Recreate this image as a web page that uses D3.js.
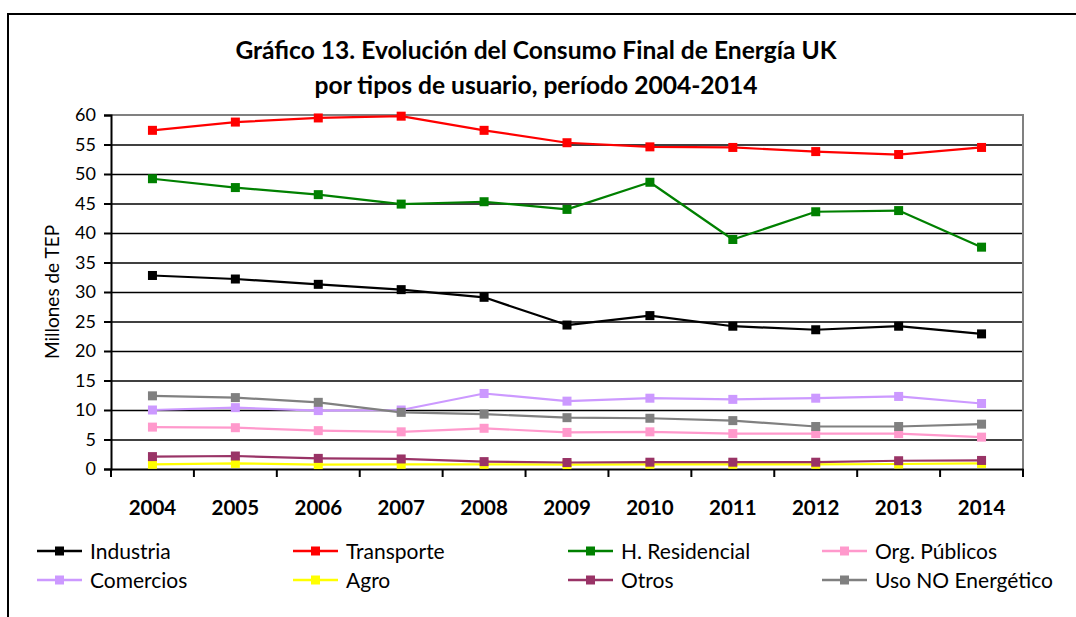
<!DOCTYPE html>
<html>
<head>
<meta charset="utf-8">
<script src="https://cdn.jsdelivr.net/npm/d3@7"></script>
<style>
  html, body { margin: 0; padding: 0; background: #fff; overflow: hidden; }
  svg { display: block; }
  text { font-family: Lato, "Open Sans", sans-serif; fill: #000; }
</style>
</head>
<body>
<svg id="chart" width="1076" height="617"></svg>
<script>
// ---- Data ----
const years = ["2004","2005","2006","2007","2008","2009","2010","2011","2012","2013","2014"];
const industria    = [32.8, 32.2, 31.3, 30.4, 29.1, 24.4, 26.0, 24.2, 23.6, 24.2, 22.9];
const transporte   = [57.4, 58.8, 59.5, 59.8, 57.4, 55.3, 54.6, 54.5, 53.8, 53.3, 54.5];
const residencial  = [49.2, 47.7, 46.5, 44.9, 45.3, 44.0, 48.6, 38.9, 43.6, 43.8, 37.6];
const orgPublicos  = [7.1, 7.0, 6.5, 6.3, 6.9, 6.2, 6.3, 6.0, 6.0, 6.0, 5.4];
const comercios    = [10.0, 10.4, 9.9, 10.0, 12.8, 11.5, 12.0, 11.8, 12.0, 12.3, 11.1];
const agro         = [0.8, 0.95, 0.75, 0.8, 0.8, 0.75, 0.8, 0.8, 0.8, 0.85, 0.95];
const otros        = [2.1, 2.2, 1.8, 1.7, 1.25, 1.1, 1.15, 1.15, 1.15, 1.4, 1.45];
const usoNoEnerg   = [12.4, 12.1, 11.3, 9.6, 9.3, 8.7, 8.6, 8.2, 7.2, 7.2, 7.6];
const yTicks = [0, 5, 10, 15, 20, 25, 30, 35, 40, 45, 50, 55, 60];

const seriesNames  = ["Industria","Transporte","H. Residencial","Org. Públicos","Comercios","Agro","Otros","Uso NO Energético"];
const seriesValues = [industria, transporte, residencial, orgPublicos, comercios, agro, otros, usoNoEnerg];
const seriesColors = ["#000000","#FF0000","#008000","#FF99CC","#CC99FF","#FFFF00","#993366","#808080"];

const titleLines = ["Gráfico 13. Evolución del Consumo Final de Energía UK", "por tipos de usuario, período 2004-2014"];
const yTitle = "Millones de TEP";

// ---- Layout ----
const svg = d3.select("#chart");
const plot = { left: 111, right: 1023, top: 115, bottom: 469 };

// outer chart frame (extends beyond the visible area on right and bottom)
svg.append("path").attr("d", "M8,700V14H1100")
  .attr("fill", "none").attr("stroke", "#000").attr("stroke-width", 2);

// title
svg.append("text").attr("x", 536).attr("y", 59).attr("text-anchor", "middle")
  .style("font-weight", "bold").style("font-size", "24.6px").text(titleLines[0]);
svg.append("text").attr("x", 536).attr("y", 94).attr("text-anchor", "middle")
  .style("font-weight", "bold").style("font-size", "24.6px").text(titleLines[1]);

// scales
const x = d3.scaleBand().domain(years).range([plot.left, plot.right]).padding(0);
const xc = d => x(d) + x.bandwidth() / 2;
const y = d3.scaleLinear().domain([0, 60]).range([plot.bottom, plot.top]);

// gridlines
const grid = svg.append("g").attr("transform", `translate(${plot.left},0)`)
  .call(d3.axisLeft(y).tickValues(yTicks.filter(v => v > 0 && v < 60)).tickSize(-(plot.right - plot.left)).tickFormat(""));
grid.select(".domain").remove();
grid.selectAll("line").attr("stroke", "#000").attr("stroke-width", 1.5);

// plot border (top & right, gray)
svg.append("path")
  .attr("d", `M${plot.left},${y(60)}H${plot.right}V${plot.bottom}`)
  .attr("fill", "none").attr("stroke", "#808080").attr("stroke-width", 2);

// y axis
const yAxis = svg.append("g").attr("transform", `translate(${plot.left},0)`)
  .call(d3.axisLeft(y).tickValues(yTicks).tickSize(7).tickPadding(8));
yAxis.select(".domain").attr("stroke", "#000").attr("stroke-width", 2);
yAxis.selectAll(".tick line").attr("stroke", "#000").attr("stroke-width", 2);
yAxis.selectAll("text").style("font-size", "18px").style("font-family", "Lato").attr("fill", "#000");

// x axis: labels
const xAxis = svg.append("g").attr("transform", `translate(0,${plot.bottom})`)
  .call(d3.axisBottom(x).tickSize(0).tickPadding(31));
xAxis.select(".domain").attr("stroke", "#000").attr("stroke-width", 2);
xAxis.selectAll("text").style("font-size", "20.5px").style("font-weight", "bold").style("font-family", "Lato").attr("fill", "#000");
// x axis boundary ticks
const bounds = years.map(d => x(d)).concat([x.range()[1]]);
svg.append("g").selectAll("line").data(bounds).join("line")
  .attr("x1", d => d).attr("x2", d => d)
  .attr("y1", plot.bottom).attr("y2", plot.bottom + 8)
  .attr("stroke", "#000").attr("stroke-width", 2);

// y axis title
svg.append("text")
  .attr("transform", `translate(59,${(plot.top + plot.bottom) / 2}) rotate(-90)`)
  .attr("text-anchor", "middle").style("font-size", "19px").text(yTitle);

// series
const line = d3.line().x((d, i) => xc(years[i])).y(d => y(d));
const mk = 9;
seriesValues.forEach((vals, si) => {
  const g = svg.append("g");
  g.append("path").attr("d", line(vals)).attr("fill", "none")
    .attr("stroke", seriesColors[si]).attr("stroke-width", 2.2).attr("stroke-linejoin", "round");
  g.selectAll("rect").data(vals).join("rect")
    .attr("x", (d, i) => xc(years[i]) - mk / 2).attr("y", d => y(d) - mk / 2)
    .attr("width", mk).attr("height", mk).attr("fill", seriesColors[si]);
});

// legend
const legCols = [37, 293, 568, 822];
const legRows = [551, 580];
const legend = svg.append("g");
seriesNames.forEach((name, i) => {
  const lx = legCols[i % 4], ly = legRows[Math.floor(i / 4)];
  const g = legend.append("g").attr("transform", `translate(${lx},${ly})`);
  g.append("line").attr("x1", 0).attr("x2", 45).attr("y1", 0).attr("y2", 0)
    .attr("stroke", seriesColors[i]).attr("stroke-width", 2.5);
  g.append("rect").attr("x", 22.5 - mk / 2).attr("y", -mk / 2).attr("width", mk).attr("height", mk)
    .attr("fill", seriesColors[i]);
  g.append("text").attr("x", 53).attr("y", 8).style("font-size", "21px").text(name);
});
</script>
</body>
</html>
